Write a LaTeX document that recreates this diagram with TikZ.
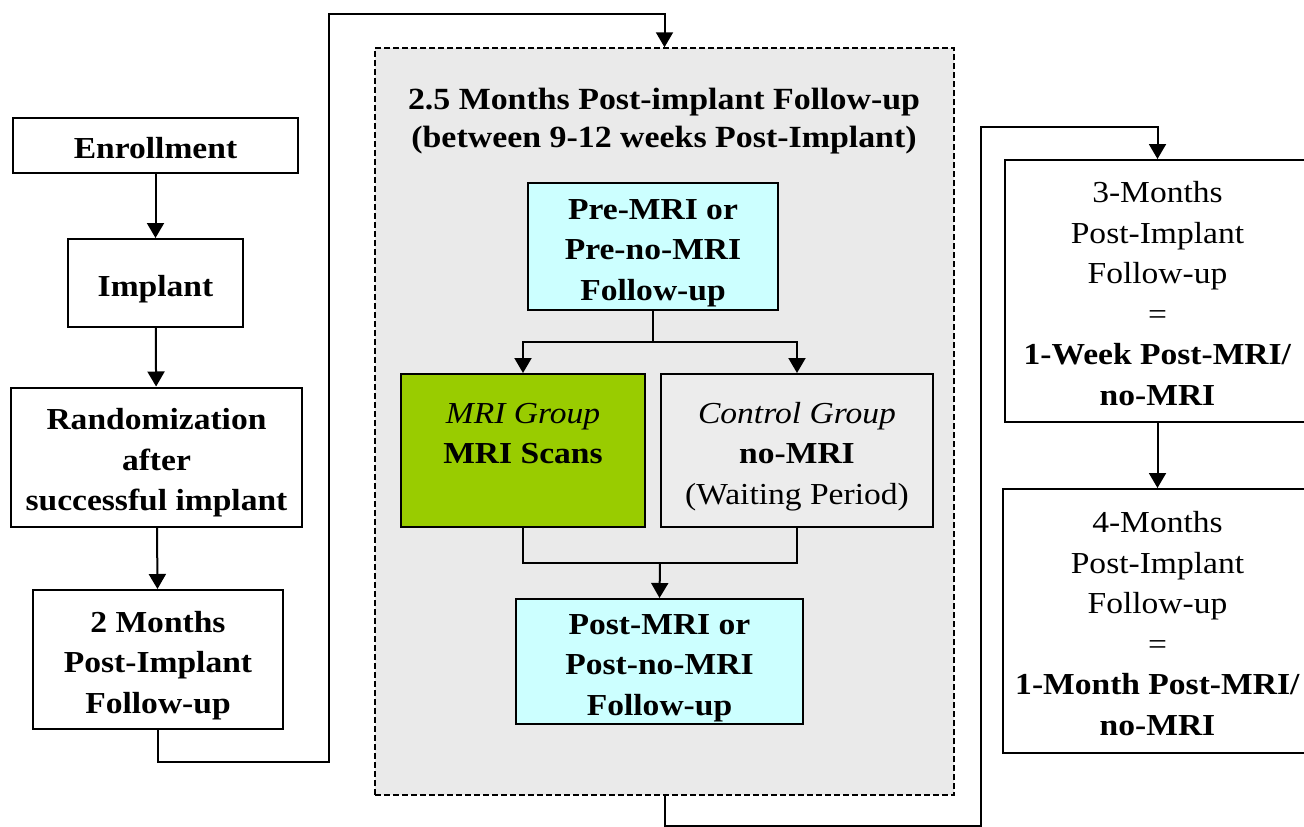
\documentclass[tikz,border=0pt]{standalone}
\usepackage{fontspec}
\setmainfont{Liberation Serif}[FakeStretch=1.1]
\usetikzlibrary{arrows.meta}
\definecolor{cyanbox}{RGB}{204,255,255}
\definecolor{greenbox}{RGB}{153,204,0}
\definecolor{grpgray}{RGB}{234,234,234}
\definecolor{ctrlgray}{RGB}{236,236,236}
\newcommand\myTop{\rule{0pt}{34pt}}
\newcommand\myBot{\rule[-8pt]{0pt}{8pt}}
\tikzset{
  box/.style={draw=black, line width=2pt, fill=white, align=center, inner sep=0pt,
    font=\fontsize{30.5}{40.5}\selectfont},
  conn/.style={line width=2pt},
  arr/.style={line width=2pt, -{Triangle[width=17pt,length=15pt]}},
  grpbox/.style={draw=black, line width=1.5pt, dash pattern=on 6pt off 3pt, fill=grpgray, inner sep=0pt},
  titletext/.style={align=center, inner sep=0pt, font=\fontsize{30.8}{38.5}\selectfont\bfseries},
}
\begin{document}
\begin{tikzpicture}[x=1pt,y=-1pt]
\useasboundingbox (0,0) rectangle (1304,827);
\fill[white] (0,0) rectangle (1304,827);
\begin{scope}
\clip (0,0) rectangle (1304,827);

% left column
\node[box, minimum width=285pt, minimum height=55pt] (enr) at (155.5,145.5) {\myTop\textbf{Enrollment}\myBot};
\node[box, minimum width=175pt, minimum height=88pt] (imp) at (155.5,283) {\myTop\textbf{Implant}\myBot};
\node[box, minimum width=291pt, minimum height=139pt] (rnd) at (156.5,457) {\myTop\textbf{Randomization}\\\textbf{after}\\\textbf{successful implant}\myBot};
\node[box, minimum width=250pt, minimum height=139pt] (m2) at (158,659.5) {\myTop\textbf{2 Months}\\\textbf{Post-Implant}\\\textbf{Follow-up}\myBot};

% group
\node[grpbox, minimum width=579pt, minimum height=747pt] (grp) at (664.5,421.5) {};
\node[titletext] (ttl) at (664,121) {2.5 Months Post-implant Follow-up\\(between 9-12 weeks Post-Implant)};
\node[box, fill=cyanbox, minimum width=250pt, minimum height=127pt] (pre) at (653,246.5) {\myTop\textbf{Pre-MRI or}\\\textbf{Pre-no-MRI}\\\textbf{Follow-up}\myBot};
\node[box, fill=greenbox, minimum width=244pt, minimum height=153pt] (mri) at (523,450.5) {\myTop\textit{MRI Group}\\\textbf{MRI Scans}\\\myBot};
\node[box, fill=ctrlgray, minimum width=272pt, minimum height=153pt] (ctl) at (797,450.5) {\myTop\textit{Control Group}\\\textbf{no-MRI}\\(Waiting Period)\myBot};
\node[box, fill=cyanbox, minimum width=287pt, minimum height=125pt] (post) at (659.5,661.5) {\myTop\textbf{Post-MRI or}\\\textbf{Post-no-MRI}\\\textbf{Follow-up}\myBot};

% right column
\node[box, minimum width=305pt, minimum height=262pt] (m3) at (1157.5,291) {\myTop 3-Months\\Post-Implant\\Follow-up\\=\\\textbf{1-Week Post-MRI/}\\\textbf{no-MRI}\myBot};
\node[box, minimum width=309pt, minimum height=264pt] (m4) at (1157.5,621) {\myTop 4-Months\\Post-Implant\\Follow-up\\=\\\textbf{1-Month Post-MRI/}\\\textbf{no-MRI}\myBot};

% coordinates
\coordinate (ta) at (329,762);
\coordinate (tb) at (329,14);
\coordinate (sp) at (653,342);
\coordinate (jm) at (660,563);
\coordinate (ba) at (981,826);
\coordinate (bb) at (981,127);

% connectors
\draw[arr] (enr) -- (imp);
\draw[arr] (imp) -- (rnd);
\draw[arr] (rnd) -- (m2);
\draw[arr] (m2.south) |- (ta) -- (tb) -| (grp.north);
\draw[conn] (pre.south) -- (sp);
\draw[arr] (sp) -| (mri.north);
\draw[arr] (sp) -| (ctl.north);
\draw[conn] (mri.south) |- (jm);
\draw[conn] (ctl.south) |- (jm);
\draw[arr] (jm) -- (post.north);
\draw[arr] (grp.south) |- (ba) -- (bb) -| (m3.north);
\draw[arr] (m3) -- (m4);
\end{scope}
\end{tikzpicture}
\end{document}
